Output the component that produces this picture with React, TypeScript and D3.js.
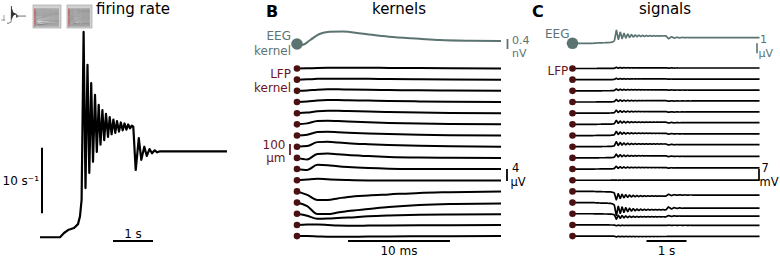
import React, { useMemo } from "react";
import * as d3 from "d3";

// ---------------- data ----------------
// population firing rate (time in s, rate in 1/s)
const rateTimes = [0, 0.5, 0.6, 0.7, 0.85, 0.95, 1.0, 1.04, 1.09, 1.1375, 1.1875, 1.2325, 1.28, 1.325, 1.375, 1.42, 1.4675, 1.5125, 1.56, 1.605, 1.65, 1.7, 1.7425, 1.79, 1.835, 1.8825, 1.925, 1.975, 2.02, 2.0675, 2.1125, 2.16, 2.205, 2.25, 2.295, 2.3325, 2.3925, 2.47, 2.5325, 2.6075, 2.67, 2.7375, 2.8, 2.8675, 2.93, 3.0, 4.675];
const rateValues = [1.5, 1.5, 2.15, 2.6, 2.9, 3.5, 4.7, 7.2, 32.8, 9.0, 27.8, 11.3, 25.0, 13.0, 23.2, 14.5, 21.7, 15.6, 20.9, 16.3, 20.3, 16.8, 19.8, 17.2, 19.45, 17.4, 19.2, 17.6, 19.0, 17.8, 18.85, 17.9, 18.7, 18.1, 18.5, 18.35, 11.75, 16.6, 13.3, 15.3, 13.9, 14.95, 14.3, 14.75, 14.45, 14.6, 14.6];
const baselineRate = 1.5;

// EEG kernel (lag in ms, value in nV)
const eegKernelLags = [0, 0.5, 1.3, 2.2, 3.2, 4.5, 6.3, 9, 12, 14, 17, 20];
const eegKernel = [0, -0.04, 0.16, 0.4, 0.49, 0.5, 0.42, 0.29, 0.21, 0.16, 0.13, 0.12];

// LFP kernels (lag in ms, value in µV), one per channel, top to bottom
const kernelLags = [0, 1, 2, 3, 4, 5, 7, 9, 12, 15, 20];
const lfpKernels = [
  [0, 0.07, 0.17, 0.23, 0.27, 0.27, 0.23, 0.2, 0.13, 0.07, 0],
  [0, 0.1, 0.27, 0.33, 0.33, 0.3, 0.27, 0.2, 0.13, 0.07, 0],
  [0, 0.13, 0.4, 0.5, 0.5, 0.43, 0.33, 0.27, 0.17, 0.1, 0],
  [0, 0.17, 0.53, 0.67, 0.67, 0.6, 0.47, 0.33, 0.2, 0.1, 0],
  [0, 0.2, 0.67, 0.83, 0.8, 0.7, 0.53, 0.4, 0.23, 0.1, 0],
  [0, 0.33, 1.13, 1.23, 1.1, 0.93, 0.67, 0.47, 0.27, 0.13, 0],
  [0, 0.27, 1.17, 1.27, 1.13, 0.97, 0.7, 0.5, 0.27, 0.13, 0],
  [0, 0.2, 1.53, 1.67, 1.43, 1.17, 0.83, 0.57, 0.3, 0.13, 0],
  [0, -0.5, 1.33, 1.47, 1.2, 0.93, 0.6, 0.33, 0.13, 0.07, 0],
  [0, -0.33, 1.43, 1.27, 0.93, 0.67, 0.33, 0.13, 0.03, 0, 0],
  [0, 0.27, 0.5, 0.33, 0.17, 0.07, -0.07, -0.1, -0.1, -0.07, -0.07],
  [0, -1.17, -2.83, -2.83, -2.33, -1.83, -1.33, -1.0, -0.5, -0.27, 0],
  [0, -1.17, -3.83, -3.83, -3.33, -2.83, -2.17, -1.5, -0.83, -0.5, -0.33],
  [0, -0.67, -1.67, -1.6, -1.43, -1.27, -0.83, -0.57, -0.33, -0.23, -0.17],
  [0, 0.17, 0.17, 0, -0.23, -0.27, -0.23, -0.17, -0.1, -0.07, -0.03],
  [0, 0, -0.1, -0.2, -0.23, -0.2, -0.17, -0.1, -0.07, -0.03, 0],
];
// electrode depths (µm)
const channelDepths = [0, 100, 200, 300, 400, 500, 600, 700, 800, 900, 1000, 1100, 1200, 1300, 1400, 1500];
// number of neurons in the population (scales kernels into signals)
const nNeurons = 8500;

// ---------------- styles ----------------
const EEG_COLOR = "#5b7472";
const LFP_DOT = "#4a1012";
const LFP_TEXT = "#6b1622";
const FONT = "DejaVu Sans, sans-serif";

type Pt = { t: number; v: number };

function convolveWithRate(lags: number[], vals: number[]): Pt[] {
  const k = d3.scaleLinear().domain(lags).range(vals).clamp(true);
  const rate = d3.scaleLinear().domain(rateTimes).range(rateValues).clamp(true);
  const dt = 0.002;
  const tEnd = rateTimes[rateTimes.length - 1];
  const n = Math.round(tEnd / dt);
  const nTau = Math.round(lags[lags.length - 1] / 1000 / dt);
  const w: number[] = [];
  for (let j = 0; j <= nTau; j++) {
    const half = j === 0 || j === nTau ? 0.5 : 1;
    w.push(k(j * dt * 1000) * dt * half);
  }
  const out: Pt[] = [];
  for (let i = 0; i <= n; i++) {
    const t = i * dt;
    let s = 0;
    for (let j = 0; j <= nTau; j++) s += w[j] * (rate(t - j * dt) - baselineRate);
    // µV -> mV (LFP) and nV -> µV (EEG)
    out.push({ t, v: (nNeurons * s) / 1000 });
  }
  return out;
}

export default function App() {
  // ---- panel A scales
  const xA = d3.scaleLinear().domain([0, 4.675]).range([40, 227]);
  const yA = d3.scaleLinear().domain([0, 10]).range([247.1, 181.5]);
  const rateLine = d3
    .line<number>()
    .x((_, i) => xA(rateTimes[i]))
    .y((d) => yA(d));

  // ---- panel B scales
  const xB = d3.scaleLinear().domain([0, 20]).range([297, 501]);
  const yDepth = d3.scaleLinear().domain([0, 1500]).range([68.5, 236.1]);
  const uV = d3.scaleLinear().domain([0, 4]).range([0, 12]);
  const nV = d3.scaleLinear().domain([0, 0.4]).range([0, 10]);
  const eegKernelY = 44;

  // ---- panel C scales
  const xC = d3.scaleLinear().domain([0, 4.675]).range([572.5, 759.5]);
  const mV = d3.scaleLinear().domain([0, 7]).range([0, 11.5]);
  const uVc = d3.scaleLinear().domain([0, 1]).range([0, 10]);
  const eegSigY = 43.3;

  const signals = useMemo(() => lfpKernels.map((kv) => convolveWithRate(kernelLags, kv)), []);
  const eegSignal = useMemo(() => convolveWithRate(eegKernelLags, eegKernel), []);

  const kernelPath = (lags: number[], vals: number[], y0: number, sc: (v: number) => number) =>
    d3
      .line<number>()
      .x((_, i) => xB(lags[i]))
      .y((d) => y0 - sc(d))
      .curve(d3.curveMonotoneX)(vals) || "";

  const sigPath = (pts: Pt[], y0: number, sc: (v: number) => number, xs: (t: number) => number) =>
    d3
      .line<Pt>()
      .x((d) => xs(d.t))
      .y((d) => y0 - sc(d.v))(pts) || "";

  // ---- thumbnails (miniature copies of the panels)
  const txA = d3.scaleLinear().domain([0, 4.675]).range([7, 26]);
  const tyA = d3.scaleLinear().domain([0, 35]).range([24, 5]);
  const tDepth1 = d3.scaleLinear().domain([0, 1500]).range([9, 26]);
  const txB = d3.scaleLinear().domain([0, 20]).range([36, 59]);
  const txC = d3.scaleLinear().domain([0, 4.675]).range([70, 90]);

  const txt = (x: number, y: number, s: string, opts: any = {}) => (
    <text
      x={x}
      y={y}
      fontFamily={FONT}
      fontSize={opts.size || 12}
      fill={opts.fill || "#000"}
      textAnchor={opts.anchor || "start"}
      fontWeight={opts.weight || "normal"}
    >
      {s}
    </text>
  );

  return (
    <svg
      width={780}
      height={257}
      viewBox="0 0 780 257"
      style={{ position: "absolute", left: 0, top: 0, background: "#fff" }}
    >
      <rect x={0} y={0} width={780} height={257} fill="#fff" />

      {/* thumbnails */}
      <g>
        <path
          d={
            d3
              .line<number>()
              .x((_, i) => txA(rateTimes[i]))
              .y((d) => tyA(d))(rateValues) || ""
          }
          fill="none"
          stroke="#333"
          strokeWidth={0.7}
        />
        <line x1={4} x2={4} y1={15} y2={21} stroke="#666" strokeWidth={0.6} />
        <line x1={1} x2={5} y1={20} y2={20} stroke="#666" strokeWidth={0.6} />
        <rect x={33} y={5} width={28} height={23} fill="#d2d2d2" stroke="#9a9a9a" strokeWidth={0.6} />
        {lfpKernels.map((kv, i) => (
          <path
            key={"tk" + i}
            d={
              d3
                .line<number>()
                .x((_, j) => txB(kernelLags[j]))
                .y((d) => tDepth1(channelDepths[i]) - d * 0.6)(kv) || ""
            }
            fill="none"
            stroke="#777"
            strokeWidth={0.6}
          />
        ))}
        {channelDepths.map((d, i) => (
          <circle key={"tkd" + i} cx={35} cy={tDepth1(d)} r={0.7} fill="#a33" />
        ))}
        <rect x={67} y={5} width={25} height={23} fill="#d2d2d2" stroke="#9a9a9a" strokeWidth={0.6} />
        {signals.map((pts, i) => (
          <path
            key={"ts" + i}
            d={sigPath(pts.filter((_, j) => j % 10 === 0), tDepth1(channelDepths[i]), (v) => v * 0.15, txC)}
            fill="none"
            stroke="#777"
            strokeWidth={0.6}
          />
        ))}
        {channelDepths.map((d, i) => (
          <circle key={"tsd" + i} cx={69} cy={tDepth1(d)} r={0.7} fill="#a33" />
        ))}
      </g>

      {/* ---------------- Panel A ---------------- */}
      {txt(133, 13.5, "firing rate", { size: 15, anchor: "middle" })}
      <path d={rateLine(rateValues) || ""} fill="none" stroke="#000" strokeWidth={2.2} strokeLinejoin="round" />
      <line x1={42} x2={42} y1={yA(5.15)} y2={yA(15.15)} stroke="#000" strokeWidth={2} />
      {txt(39, 185, "10 s\u207B\u00B9", { anchor: "end" })}
      <line x1={xA(1.825)} x2={xA(2.825)} y1={241} y2={241} stroke="#000" strokeWidth={2} />
      {txt(xA(2.325), 238, "1 s", { anchor: "middle" })}

      {/* ---------------- Panel B ---------------- */}
      {txt(266, 17, "B", { size: 16, weight: "bold" })}
      {txt(399, 13.5, "kernels", { size: 15, anchor: "middle" })}
      {txt(291, 40, "EEG", { anchor: "end", fill: EEG_COLOR })}
      {txt(291, 54.5, "kernel", { anchor: "end", fill: EEG_COLOR })}
      {txt(291, 77.5, "LFP", { anchor: "end", fill: LFP_TEXT })}
      {txt(291, 91.5, "kernel", { anchor: "end", fill: LFP_TEXT })}
      <path
        d={kernelPath(eegKernelLags, eegKernel, eegKernelY, nV)}
        fill="none"
        stroke={EEG_COLOR}
        strokeWidth={2}
      />
      <circle cx={xB(0)} cy={eegKernelY} r={5.8} fill={EEG_COLOR} />
      {lfpKernels.map((kv, i) => (
        <path
          key={"k" + i}
          d={kernelPath(kernelLags, kv, yDepth(channelDepths[i]), uV)}
          fill="none"
          stroke="#000"
          strokeWidth={2}
        />
      ))}
      {channelDepths.map((d, i) => (
        <circle key={"kd" + i} cx={xB(0)} cy={yDepth(d)} r={3.3} fill={LFP_DOT} />
      ))}
      {/* 100 µm bar */}
      <line x1={290} x2={290} y1={yDepth(675)} y2={yDepth(775)} stroke={LFP_TEXT} strokeWidth={1.8} />
      {txt(285.5, 148.5, "100", { anchor: "end", fill: LFP_TEXT })}
      {txt(285.5, 161.5, "\u00B5m", { anchor: "end", fill: LFP_TEXT })}
      {/* 0.4 nV bar */}
      <line x1={507.5} x2={507.5} y1={39} y2={39 + nV(0.4)} stroke={EEG_COLOR} strokeWidth={1.8} />
      {txt(512, 43.5, "0.4", { fill: EEG_COLOR, size: 11 })}
      {txt(512, 56.5, "nV", { fill: EEG_COLOR, size: 11 })}
      {/* 4 µV bar */}
      <line x1={507} x2={507} y1={169} y2={169 + uV(4)} stroke="#000" strokeWidth={1.8} />
      {txt(512, 172, "4", { size: 11.5 })}
      {txt(510.5, 185.5, "\u00B5V", { size: 11.5 })}

      {/* 10 ms bar */}
      <line x1={xB(5)} x2={xB(15)} y1={241} y2={241} stroke="#000" strokeWidth={2} />
      {txt(xB(10), 255, "10 ms", { anchor: "middle" })}

      {/* ---------------- Panel C ---------------- */}
      {txt(532, 17, "C", { size: 16, weight: "bold" })}
      {txt(665, 13.5, "signals", { size: 15, anchor: "middle" })}
      {txt(545, 37.5, "EEG", { fill: EEG_COLOR })}
      <path d={sigPath(eegSignal, eegSigY, uVc, xC)} fill="none" stroke={EEG_COLOR} strokeWidth={1.7} />
      <circle cx={xC(0)} cy={eegSigY} r={5.8} fill={EEG_COLOR} />
      {signals.map((pts, i) => (
        <path
          key={"s" + i}
          d={sigPath(pts, yDepth(channelDepths[i]), mV, xC)}
          fill="none"
          stroke="#000"
          strokeWidth={1.7}
        />
      ))}
      {txt(547.5, 75, "LFP", { fill: LFP_TEXT })}
      {channelDepths.map((d, i) => (
        <circle key={"sd" + i} cx={xC(0)} cy={yDepth(d)} r={3.3} fill={LFP_DOT} />
      ))}
      {/* 1 µV bar */}
      <line x1={757} x2={757} y1={eegSigY} y2={eegSigY + uVc(1)} stroke={EEG_COLOR} strokeWidth={1.6} />
      {txt(760, 43, "1", { fill: EEG_COLOR, size: 11 })}
      {txt(758.5, 56.5, "\u00B5V", { fill: EEG_COLOR, size: 11 })}
      {/* 7 mV bracket */}
      <line
        x1={759}
        x2={759}
        y1={yDepth(channelDepths[9])}
        y2={yDepth(channelDepths[9]) + mV(7)}
        stroke="#000"
        strokeWidth={1.7}
      />
      {txt(761.5, 172, "7", { size: 11.5 })}
      {txt(759.5, 185.5, "mV", { size: 11.5 })}
      {/* 1 s bar */}
      <line x1={xC(1.85)} x2={xC(2.85)} y1={241} y2={241} stroke="#000" strokeWidth={2} />
      {txt(xC(2.35), 255, "1 s", { anchor: "middle" })}
    </svg>
  );
}
